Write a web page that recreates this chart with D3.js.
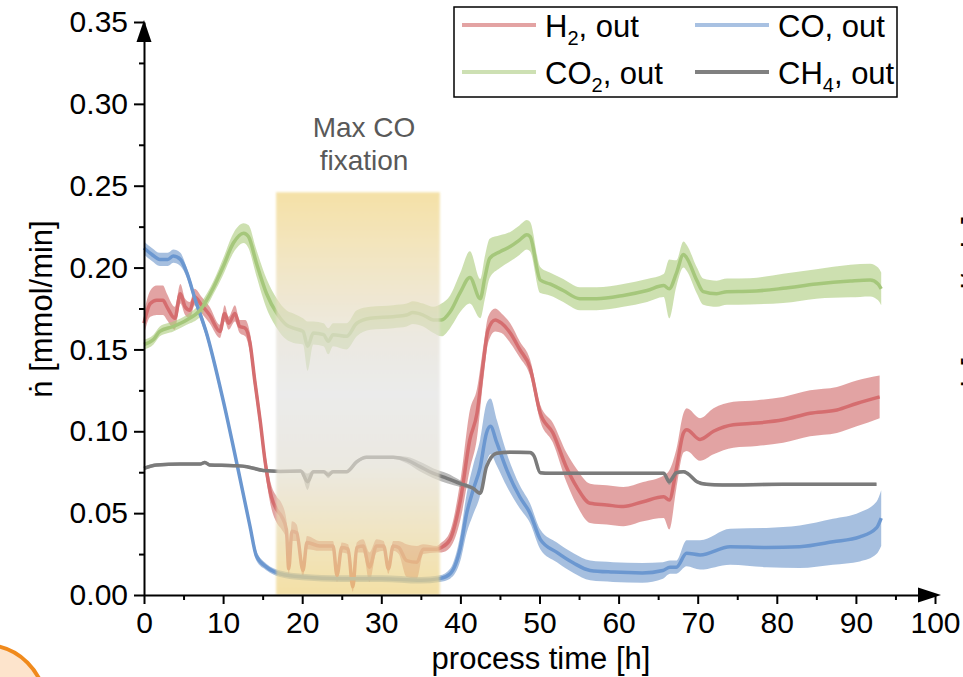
<!DOCTYPE html>
<html lang="en">
<head>
<meta charset="utf-8">
<script src="https://cdn.jsdelivr.net/npm/d3@7"></script>
<style>
  body { margin: 0; background: #fff; }
  svg { display: block; font-family: "Liberation Sans", Arial, sans-serif; }
</style>
</head>
<body>
<script>
// process time [h], flow [mmol/min], band half width
const h2Time = [0, 0.8, 1.6, 2.4, 2.9, 3.9, 4.6, 5.2, 5.8, 6.4, 7.3, 8.3, 9.6, 10.2, 10.7, 11.5, 12.1, 12.8, 13.4, 14.0, 14.7, 15.3, 16.1, 16.8, 17.4, 18.0, 18.3, 18.7, 19.3, 20.1, 20.6, 22.2, 23.9, 24.4, 25.0, 25.8, 26.4, 26.9, 27.7, 28.5, 29.4, 30.3, 30.9, 31.5, 32.2, 33.2, 34.5, 35.3, 37.0, 37.6, 38.7, 40.0, 41.2, 42.1, 42.9, 43.5, 44.4, 45.2, 46.3, 47.5, 48.8, 50.1, 51.7, 53.4, 54.7, 56.4, 58.5, 60.6, 63.1, 65.7, 66.4, 67.3, 68.2, 68.6, 70.3, 72.0, 74.5, 77.5, 80.8, 84.2, 87.6, 90.1, 93.0]
const h2Mean = [0.166, 0.178, 0.180, 0.180, 0.176, 0.169, 0.184, 0.176, 0.174, 0.182, 0.177, 0.171, 0.161, 0.172, 0.166, 0.172, 0.164, 0.163, 0.154, 0.131, 0.106, 0.082, 0.060, 0.052, 0.048, 0.040, 0.016, 0.039, 0.038, 0.015, 0.032, 0.030, 0.030, 0.012, 0.029, 0.028, 0.005, 0.029, 0.030, 0.017, 0.030, 0.030, 0.016, 0.030, 0.029, 0.021, 0.020, 0.028, 0.028, 0.029, 0.034, 0.058, 0.095, 0.111, 0.142, 0.162, 0.168, 0.166, 0.160, 0.150, 0.139, 0.111, 0.099, 0.078, 0.066, 0.056, 0.055, 0.054, 0.057, 0.060, 0.058, 0.077, 0.099, 0.101, 0.095, 0.100, 0.104, 0.105, 0.107, 0.111, 0.113, 0.117, 0.121]
const h2Err = [0.007, 0.008, 0.009, 0.009, 0.008, 0.007, 0.006, 0.005, 0.005, 0.005, 0.005, 0.005, 0.004, 0.005, 0.004, 0.005, 0.004, 0.005, 0.006, 0.006, 0.006, 0.006, 0.007, 0.008, 0.008, 0.006, 0.004, 0.006, 0.005, 0.004, 0.004, 0.003, 0.003, 0.004, 0.003, 0.003, 0.003, 0.003, 0.004, 0.009, 0.004, 0.003, 0.003, 0.003, 0.004, 0.010, 0.010, 0.003, 0.002, 0.003, 0.005, 0.012, 0.018, 0.015, 0.010, 0.008, 0.007, 0.006, 0.006, 0.005, 0.005, 0.005, 0.006, 0.009, 0.011, 0.012, 0.012, 0.012, 0.012, 0.013, 0.018, 0.012, 0.012, 0.013, 0.013, 0.014, 0.014, 0.014, 0.014, 0.014, 0.014, 0.014, 0.013]

const coTime = [0, 1, 2, 3, 3.7, 4.6, 5.4, 6.5, 7.9, 10, 12.1, 13.4, 14.2, 15.5, 17.2, 20, 25, 30, 35, 37.4, 38.7, 40, 40.8, 41.6, 42.5, 43.3, 43.8, 44.6, 45.9, 47.5, 48.8, 50.1, 52.2, 54.3, 56.4, 59.3, 63, 65.6, 66.5, 67.3, 68.6, 70.3, 74.1, 78.7, 82.9, 87.1, 90.5, 92.6, 93.2]
const coMean = [0.212, 0.208, 0.205, 0.205, 0.207, 0.205, 0.197, 0.180, 0.160, 0.119, 0.072, 0.042, 0.024, 0.017, 0.013, 0.011, 0.010, 0.010, 0.009, 0.010, 0.013, 0.029, 0.050, 0.064, 0.078, 0.099, 0.103, 0.093, 0.076, 0.060, 0.050, 0.034, 0.026, 0.0195, 0.015, 0.014, 0.0135, 0.015, 0.017, 0.017, 0.0255, 0.0245, 0.0295, 0.029, 0.0295, 0.0325, 0.0355, 0.041, 0.047]
const coErr = [0.004, 0.004, 0.004, 0.004, 0.004, 0.004, 0.003, 0.003, 0.003, 0.003, 0.003, 0.003, 0.003, 0.002, 0.002, 0.002, 0.002, 0.002, 0.002, 0.002, 0.003, 0.008, 0.012, 0.015, 0.017, 0.018, 0.017, 0.014, 0.010, 0.007, 0.006, 0.006, 0.006, 0.006, 0.006, 0.006, 0.006, 0.005, 0.004, 0.004, 0.008, 0.009, 0.011, 0.012, 0.013, 0.014, 0.015, 0.016, 0.017]

const co2Time = [0, 1.2, 2, 3.7, 5.4, 7.1, 8.8, 10, 11.3, 12.6, 13.2, 14.2, 15.5, 16.8, 18.0, 18.9, 20.1, 20.7, 21.4, 22.7, 23.3, 23.9, 25.6, 26.9, 28.6, 31.5, 33.2, 34, 35.3, 36.6, 37.6, 38.7, 40, 41.2, 42.5, 43.1, 43.7, 45, 46.3, 47.5, 48.4, 48.8, 50.1, 51.3, 53, 55.1, 57.2, 60.6, 63.6, 65.7, 66.4, 67.3, 68.2, 68.6, 69.9, 70.7, 72.4, 73.7, 76.6, 80.8, 85, 89.3, 91.8, 92.8, 93.2]
const co2Mean = [0.153, 0.156, 0.161, 0.164, 0.168, 0.174, 0.188, 0.2005, 0.215, 0.221, 0.219, 0.203, 0.184, 0.172, 0.165, 0.163, 0.161, 0.152, 0.160, 0.159, 0.155, 0.159, 0.158, 0.166, 0.169, 0.170, 0.171, 0.1725, 0.171, 0.168, 0.168, 0.173, 0.185, 0.194, 0.181, 0.194, 0.2056, 0.2097, 0.2128, 0.2169, 0.220, 0.219, 0.1924, 0.190, 0.186, 0.181, 0.181, 0.183, 0.186, 0.189, 0.187, 0.1965, 0.208, 0.206, 0.192, 0.1853, 0.184, 0.1853, 0.1855, 0.1873, 0.190, 0.1918, 0.1924, 0.190, 0.187]
const co2Err = [0.003, 0.003, 0.003, 0.003, 0.003, 0.004, 0.004, 0.005, 0.006, 0.006, 0.007, 0.008, 0.009, 0.009, 0.009, 0.009, 0.008, 0.015, 0.007, 0.007, 0.008, 0.007, 0.008, 0.008, 0.007, 0.007, 0.007, 0.007, 0.007, 0.008, 0.010, 0.010, 0.012, 0.016, 0.012, 0.013, 0.012, 0.010, 0.009, 0.009, 0.009, 0.009, 0.008, 0.007, 0.007, 0.007, 0.007, 0.007, 0.007, 0.007, 0.018, 0.008, 0.008, 0.008, 0.008, 0.008, 0.008, 0.008, 0.008, 0.009, 0.009, 0.010, 0.010, 0.010, 0.010]

const ch4Time = [0, 1.6, 4.6, 7.1, 7.7, 8.3, 11.3, 13, 15.1, 17.2, 19.8, 20.7, 21.4, 22.7, 23.3, 23.9, 25.6, 26.9, 28.1, 31.5, 33.2, 34.9, 36.6, 38.3, 40, 41.6, 42.5, 43.3, 44.6, 46.3, 48.8, 49.3, 50.1, 51.3, 57.2, 65.7, 66.4, 67.3, 68.2, 68.7, 69.9, 71.1, 73.1, 80.8, 92.6]
const ch4Mean = [0.0774, 0.0794, 0.080, 0.080, 0.081, 0.0794, 0.079, 0.0784, 0.076, 0.0755, 0.0757, 0.0692, 0.0753, 0.0753, 0.0733, 0.0753, 0.0753, 0.0814, 0.0841, 0.0841, 0.0825, 0.0784, 0.0743, 0.0713, 0.068, 0.0652, 0.0621, 0.0784, 0.0866, 0.0872, 0.087, 0.085, 0.0747, 0.0743, 0.0743, 0.0743, 0.0692, 0.0747, 0.0753, 0.0743, 0.0692, 0.0676, 0.0672, 0.0676, 0.0676]
const ch4Err = [0.001, 0.001, 0.001, 0.001, 0.001, 0.001, 0.001, 0.001, 0.001, 0.001, 0.001, 0.005, 0.001, 0.001, 0.002, 0.001, 0.001, 0.001, 0.001, 0.001, 0.002, 0.003, 0.003, 0.003, 0.002, 0.001, 0.001, 0.001, 0.001, 0.001, 0.001, 0.001, 0.001, 0.001, 0.001, 0.001, 0.002, 0.001, 0.001, 0.001, 0.001, 0.001, 0.001, 0.001, 0.001]

const xTicks = [0, 10, 20, 30, 40, 50, 60, 70, 80, 90, 100]
const yTicks = [0, 0.05, 0.10, 0.15, 0.20, 0.25, 0.30, 0.35]
const fixWindow = [16.7, 37.4]   // h
const fixTop = 0.246

const w = 963
const h = 677

const x = d3.scaleLinear().domain([0, 100]).range([144, 935])
const y = d3.scaleLinear().domain([0, 0.35]).range([595, 22])

const series = [
  {name: 'H2',  t: h2Time,  m: h2Mean,  e: h2Err,  line: '#d56d6f', band: '#cf6565', leg: '#e3a3a3'},
  {name: 'CO',  t: coTime,  m: coMean,  e: coErr,  line: '#6b97d0', band: '#6b94ca', leg: '#a8c1e2'},
  {name: 'CO2', t: co2Time, m: co2Mean, e: co2Err, line: '#a5c77b', band: '#accb7b', leg: '#cde0b3'},
  {name: 'CH4', t: ch4Time, m: ch4Mean, e: ch4Err, line: '#7b7b7b', band: '#8c8c8c', leg: '#808080'}
]

const svg = d3.select('body')
  .append('svg')
  .attr('width', w)
  .attr('height', h)

const defs = svg.append('defs')
const grad = defs.append('linearGradient')
  .attr('id', 'fixGrad')
  .attr('x1', 0).attr('y1', 0).attr('x2', 0).attr('y2', 1)
grad.append('stop').attr('offset', '0%').attr('stop-color', '#f0d37e')
grad.append('stop').attr('offset', '12%').attr('stop-color', '#eed99c')
grad.append('stop').attr('offset', '35%').attr('stop-color', '#e4e0d2')
grad.append('stop').attr('offset', '50%').attr('stop-color', '#e2e2e2')
grad.append('stop').attr('offset', '68%').attr('stop-color', '#e3e0d4')
grad.append('stop').attr('offset', '100%').attr('stop-color', '#efd27c')
defs.append('filter')
  .attr('id', 'soft')
  .append('feGaussianBlur')
  .attr('stdDeviation', 1.2)

// orange badge peeking in at the bottom-left corner
svg.append('circle')
  .attr('cx', -15).attr('cy', 705).attr('r', 60)
  .style('fill', '#fde4cc')
  .style('stroke', '#f08a1c')
  .style('stroke-width', 4)

const rows = s => s.t.map((t, i) => ({t: t, m: s.m[i], e: s.e[i]}))

const area = d3.area()
  .x(d => x(d.t))
  .y0(d => y(d.m - d.e))
  .y1(d => y(d.m + d.e))
  .curve(d3.curveMonotoneX)

const line = d3.line()
  .x(d => x(d.t))
  .y(d => y(d.m))
  .curve(d3.curveMonotoneX)

const plot = svg.append('g')

series.forEach(function(s) {
  plot.append('path')
    .datum(rows(s))
    .attr('d', area)
    .style('fill', s.band)
    .style('opacity', 0.6)
})
series.forEach(function(s) {
  plot.append('path')
    .datum(rows(s))
    .attr('d', line)
    .style('fill', 'none')
    .style('stroke', s.line)
    .style('stroke-width', 3.5)
    .style('stroke-linejoin', 'round')
})

// max CO fixation window, laid over the curves
svg.append('rect')
  .attr('x', x(fixWindow[0]))
  .attr('y', y(fixTop))
  .attr('width', x(fixWindow[1]) - x(fixWindow[0]))
  .attr('height', y(0) - y(fixTop))
  .style('fill', 'url(#fixGrad)')
  .style('opacity', 0.68)
  .attr('filter', 'url(#soft)')

svg.append('text')
  .attr('x', 364)
  .attr('y', 137)
  .attr('text-anchor', 'middle')
  .style('font-size', '28px')
  .style('fill', '#595959')
  .text('Max CO')
svg.append('text')
  .attr('x', 364)
  .attr('y', 170)
  .attr('text-anchor', 'middle')
  .style('font-size', '28px')
  .style('fill', '#595959')
  .text('fixation')

// axes
svg.append('g')
  .attr('transform', 'translate(0,' + y(0) + ')')
  .call(d3.axisBottom(x).tickValues(xTicks).tickSize(9).tickSizeOuter(0).tickPadding(8).tickFormat(d3.format('d')))
svg.append('g')
  .attr('transform', 'translate(0,' + y(0) + ')')
  .call(d3.axisBottom(x).tickValues(d3.range(5, 100, 10)).tickSize(5).tickFormat(''))
  .call(g => g.select('.domain').remove())

svg.append('g')
  .attr('transform', 'translate(' + x(0) + ',0)')
  .call(d3.axisLeft(y).tickValues(yTicks).tickSize(10).tickSizeOuter(0).tickPadding(6).tickFormat(d3.format('.2f')))
svg.append('g')
  .attr('transform', 'translate(' + x(0) + ',0)')
  .call(d3.axisLeft(y).tickValues(d3.range(0.025, 0.35, 0.05)).tickSize(5).tickFormat(''))
  .call(g => g.select('.domain').remove())

svg.selectAll('.tick line, .domain')
  .style('stroke', '#000')
  .style('stroke-width', 2)
svg.selectAll('.tick text')
  .style('font-size', '30px')
  .style('fill', '#000')
  .style('font-family', '"Liberation Sans", Arial, sans-serif')

// arrow heads
svg.append('path')
  .attr('d', 'M' + (x(0) - 7.5) + ',42 L' + x(0) + ',20 L' + (x(0) + 7.5) + ',42 Z')
  .style('fill', '#000')
svg.append('path')
  .attr('d', 'M918,' + (y(0) - 7.5) + ' L941,' + y(0) + ' L918,' + (y(0) + 7.5) + ' Z')
  .style('fill', '#000')

svg.append('text')
  .attr('x', 541)
  .attr('y', 669)
  .attr('text-anchor', 'middle')
  .style('font-size', '31px')
  .text('process time [h]')

svg.append('text')
  .attr('transform', 'translate(52,309) rotate(-90)')
  .attr('text-anchor', 'middle')
  .style('font-size', '31px')
  .text('ṅ [mmol/min]')

// title of the neighbouring panel, cut by the right edge as in the source figure
svg.append('text')
  .attr('transform', 'translate(984,304) rotate(-90)')
  .attr('text-anchor', 'middle')
  .style('font-size', '31px')
  .text('ṅ [mmol/min]')

// legend
const legend = svg.append('g')
legend.append('rect')
  .attr('x', 454).attr('y', 7)
  .attr('width', 443).attr('height', 90)
  .style('fill', '#fff')
  .style('stroke', '#000')
  .style('stroke-width', 1.5)

const legItems = [
  {s: series[0], lx: 462, ly: 25, main: 'H', sub: '2', rest: ', out'},
  {s: series[1], lx: 695, ly: 25, main: 'CO', sub: '', rest: ', out'},
  {s: series[2], lx: 462, ly: 72, main: 'CO', sub: '2', rest: ', out'},
  {s: series[3], lx: 695, ly: 72, main: 'CH', sub: '4', rest: ', out'}
]
legItems.forEach(function(d) {
  legend.append('line')
    .attr('x1', d.lx).attr('x2', d.lx + 74)
    .attr('y1', d.ly).attr('y2', d.ly)
    .style('stroke', d.s.leg)
    .style('stroke-width', 4)
  const t = legend.append('text')
    .attr('x', d.lx + 83)
    .attr('y', d.ly + 12)
    .style('font-size', '31px')
  t.append('tspan').text(d.main)
  if (d.sub) {
    t.append('tspan').attr('dy', 8).style('font-size', '20px').text(d.sub)
    t.append('tspan').attr('dy', -8).text(d.rest)
  } else {
    t.append('tspan').text(d.rest)
  }
})
</script>
</body>
</html>
